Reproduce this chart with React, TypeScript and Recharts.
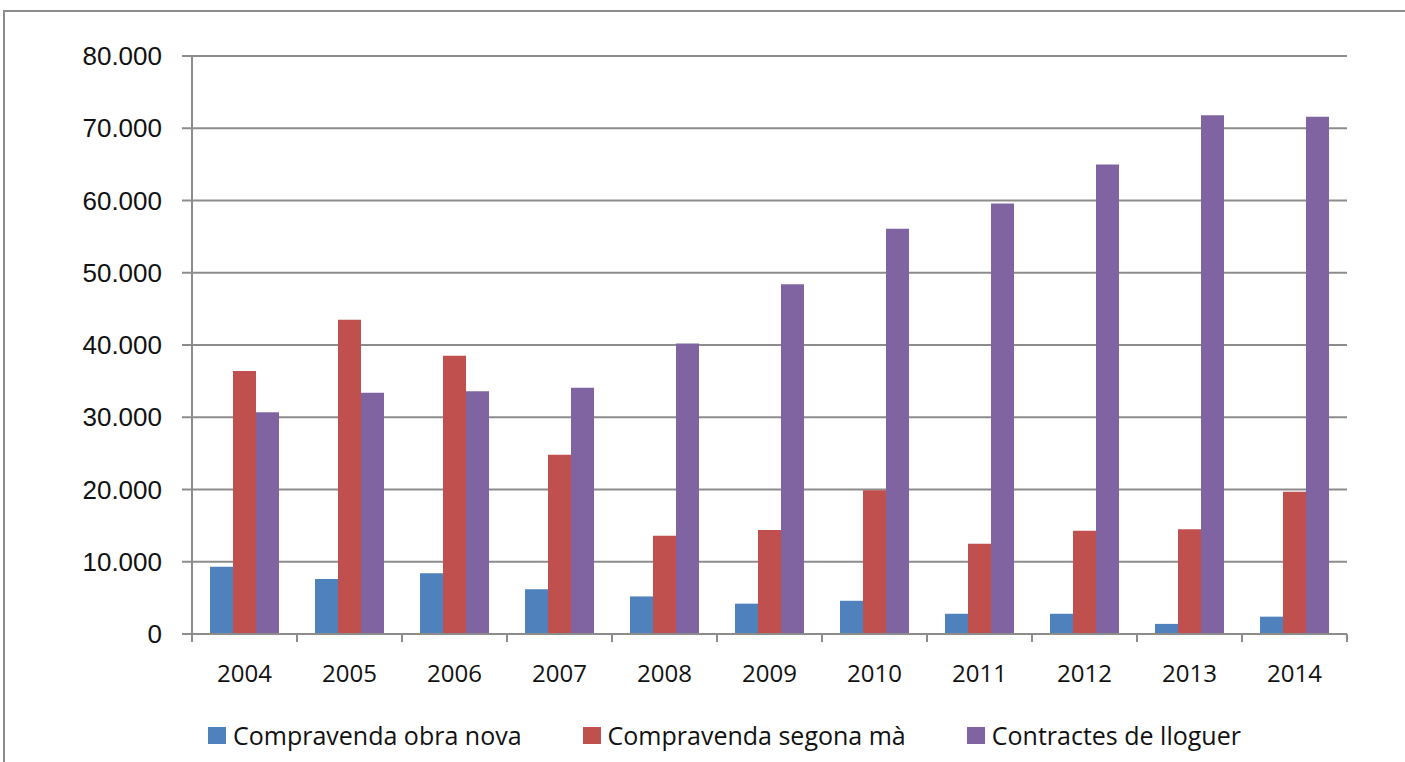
import React from "react";
import { BarChart, Bar, XAxis, YAxis, CartesianGrid } from "recharts";

const years = ["2004", "2005", "2006", "2007", "2008", "2009", "2010", "2011", "2012", "2013", "2014"];
const obraNova = [9300, 7600, 8400, 6200, 5200, 4200, 4600, 2800, 2800, 1400, 2400];
const segonaMa = [36400, 43500, 38500, 24800, 13600, 14400, 19900, 12500, 14300, 14500, 19700];
const lloguer = [30700, 33400, 33600, 34100, 40200, 48400, 56100, 59600, 65000, 71800, 71600];
const yTicks = [0, 10000, 20000, 30000, 40000, 50000, 60000, 70000, 80000];

const seriesInfo = [
  { key: "obraNova", name: "Compravenda obra nova", color: "#4F81BD" },
  { key: "segonaMa", name: "Compravenda segona mà", color: "#C0504D" },
  { key: "lloguer", name: "Contractes de lloguer", color: "#8064A2" },
];

const data = years.map((year, i) => ({
  year,
  obraNova: obraNova[i],
  segonaMa: segonaMa[i],
  lloguer: lloguer[i],
}));

const W = 1405;
const H = 762;
const margin = { top: 56, right: 58, left: 0, bottom: 88 };
const yAxisWidth = 192;
const halfBand = (W - margin.left - margin.right - yAxisWidth) / years.length / 2;
const axisColor = "#8c8c8c";

const formatY = (v: number) => (v === 0 ? "0" : `${v / 1000}.000`);

const XTick = (props: any) => {
  const { x, y, payload, index } = props;
  const last = index === years.length - 1;
  return (
    <g>
      <line x1={x - halfBand} y1={y} x2={x - halfBand} y2={y + 8} stroke={axisColor} strokeWidth={2} />
      {last && <line x1={x + halfBand} y1={y} x2={x + halfBand} y2={y + 8} stroke={axisColor} strokeWidth={2} />}
      <text x={x} y={y + 48} textAnchor="middle" fontFamily="'Open Sans', sans-serif" fontSize={24} fill="#111">
        {payload.value}
      </text>
    </g>
  );
};

export default function App() {
  return (
    <div style={{ position: "absolute", left: 0, top: 0, width: W, height: H, background: "#fff" }}>
      <div
        style={{
          position: "absolute",
          left: 3,
          top: 10,
          width: W - 3,
          height: H - 10,
          borderTop: `2px solid ${axisColor}`,
          borderLeft: `2px solid ${axisColor}`,
          boxSizing: "border-box",
        }}
      />
      <BarChart width={W} height={H} data={data} margin={margin} barGap={0} barSize={23}>
        <CartesianGrid vertical={false} stroke={axisColor} strokeWidth={2} />
        <XAxis
          dataKey="year"
          height={40}
          axisLine={{ stroke: axisColor, strokeWidth: 2 }}
          tickLine={false}
          tickSize={0}
          tickMargin={0}
          tick={<XTick />}
          interval={0}
        />
        <YAxis
          width={yAxisWidth}
          domain={[0, 80000]}
          ticks={yTicks}
          interval={0}
          tickFormatter={formatY}
          axisLine={{ stroke: axisColor, strokeWidth: 2 }}
          tickLine={{ stroke: axisColor, strokeWidth: 2 }}
          tickSize={10}
          tickMargin={20}
          tick={{ fontFamily: "'Liberation Sans', Arial, sans-serif", fontSize: 26, fill: "#111" }}
        />
        {seriesInfo.map((s) => (
          <Bar key={s.key} dataKey={s.key} name={s.name} fill={s.color} isAnimationActive={false} />
        ))}
      </BarChart>
      <div
        style={{
          position: "absolute",
          top: 718,
          left: 208,
          display: "flex",
          alignItems: "center",
          fontFamily: "'Open Sans', sans-serif",
          fontSize: 25,
          color: "#111",
          whiteSpace: "nowrap",
        }}
      >
        {seriesInfo.map((s, i) => (
          <div key={s.key} style={{ display: "flex", alignItems: "center", marginRight: i < 2 ? 61 : 0 }}>
            <span style={{ display: "inline-block", width: 18, height: 17, background: s.color, marginRight: 7 }} />
            <span>{s.name}</span>
          </div>
        ))}
      </div>
    </div>
  );
}
